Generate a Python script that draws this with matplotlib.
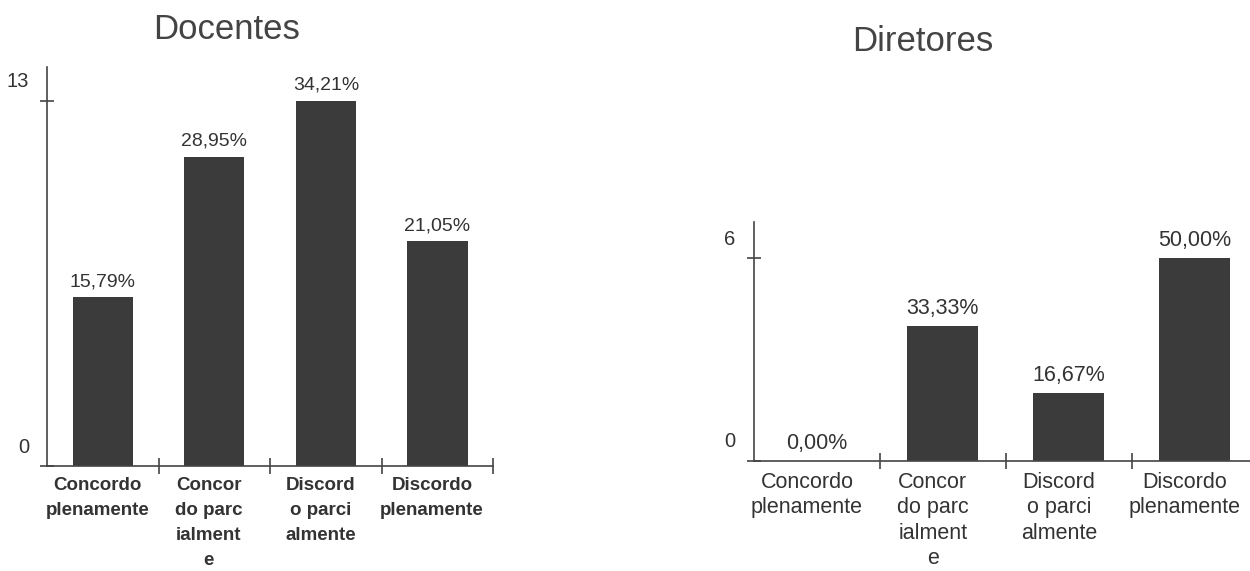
import matplotlib.pyplot as plt
import matplotlib.transforms as mtransforms

# Respostas (número de respondentes por categoria)
categorias = ['Concordo\nplenamente', 'Concor\ndo parc\nialment\ne',
              'Discord\no parci\nalmente', 'Discordo\nplenamente']
docentes = [6, 11, 13, 8]
diretores = [0, 4, 2, 6]

cor_barra = '#3b3b3b'
cor_texto = '#333333'

plt.rcParams['font.family'] = ['Liberation Sans', 'DejaVu Sans']

fig = plt.figure(figsize=(12.5, 5.71), dpi=100)


def grafico(ax, valores, ymax, largura, tam_rot, tam_pct, peso_rot,
            entrelinha, desvio_rot):
    total = sum(valores)
    x = range(len(valores))
    barras = ax.bar(x, valores, width=largura, color=cor_barra)
    for b, v in zip(barras, valores):
        pct = f'{v / total * 100:.2f}%'.replace('.', ',')
        ax.annotate(pct, (b.get_x() + b.get_width() / 2, v),
                    xytext=(0, 5), textcoords='offset points',
                    ha='center', va='bottom', fontsize=tam_pct, color=cor_texto)

    ax.set_xlim(-0.5, len(valores) - 0.5)
    ax.set_ylim(0, ymax)
    for lado in ['top', 'right']:
        ax.spines[lado].set_visible(False)
    for lado in ['left', 'bottom']:
        ax.spines[lado].set_color('#444444')
        ax.spines[lado].set_linewidth(1.2)

    # rótulos das categorias no centro, marcas nas divisas
    ax.set_xticks(list(x))
    ax.set_xticklabels(categorias, fontsize=tam_rot, fontweight=peso_rot,
                       color=cor_texto, linespacing=entrelinha)
    ax.tick_params(axis='x', which='major', length=0, pad=8)
    ax.set_xticks([i + 0.5 for i in x], minor=True)
    ax.tick_params(axis='x', which='minor', direction='inout', length=11,
                   width=1.2, color='#444444')
    desloc_x = mtransforms.ScaledTranslation(desvio_rot / 72, 0, fig.dpi_scale_trans)
    for rot in ax.get_xticklabels():
        rot.set_transform(rot.get_transform() + desloc_x)

    ax.set_yticks([0, max(valores)])
    ax.set_yticklabels(['0', str(max(valores))], fontsize=14.5, color=cor_texto)
    ax.tick_params(axis='y', direction='inout', length=10, width=1.2,
                   color='#444444', pad=8)
    # números do eixo ficam um pouco acima da marca
    desloc = mtransforms.ScaledTranslation(0, 15 / 72, fig.dpi_scale_trans)
    for rot in ax.get_yticklabels():
        rot.set_transform(rot.get_transform() + desloc)


ax1 = fig.add_axes([0.0376, 0.1839, 0.357, 0.699])
grafico(ax1, docentes, 14.2, 0.54, 13.5, 14, 'bold', 1.6, -4)

ax2 = fig.add_axes([0.603, 0.193, 0.403, 0.4186])
grafico(ax2, diretores, 7.07, 0.56, 15.5, 15.5, 'normal', 1.28, -7)

fig.text(0.181, 0.949, 'Docentes', ha='center', va='center',
         fontsize=25, color='#444444')
fig.text(0.738, 0.928, 'Diretores', ha='center', va='center',
         fontsize=25, color='#444444')

fig.savefig('out.png', dpi=100)
